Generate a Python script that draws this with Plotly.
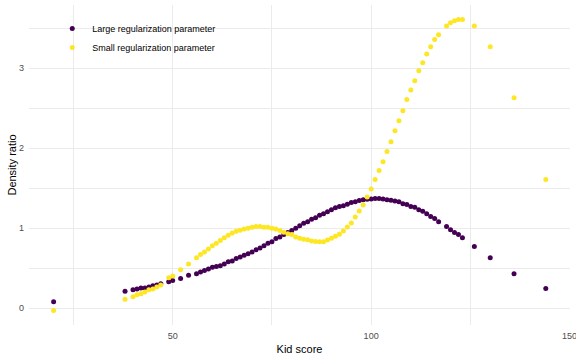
import plotly.graph_objects as go

kid_score = [20, 38, 40, 41, 42, 43, 44, 45, 46, 47, 49, 50, 52, 54,
             56, 57, 58, 59, 60, 61, 62, 63, 64, 65, 66, 67, 68, 69, 70,
             71, 72, 73, 74, 75, 76, 77, 78, 79, 80, 81, 82, 83, 84, 85,
             86, 87, 88, 89, 90, 91, 92, 93, 94, 95, 96, 97, 98, 99, 100,
             101, 102, 103, 104, 105, 106, 107, 108, 109, 110, 111, 112,
             113, 114, 115, 116, 117, 119, 120, 121, 122, 123, 126, 130,
             136, 144]

large_reg = [0.08, 0.21, 0.23, 0.24, 0.25, 0.25, 0.265, 0.28, 0.29, 0.305, 0.33, 0.345, 0.37, 0.41,
             0.43, 0.45, 0.47, 0.49, 0.51, 0.52, 0.53, 0.55, 0.58, 0.59, 0.62, 0.64, 0.66, 0.68, 0.70,
             0.73, 0.75, 0.78, 0.81, 0.83, 0.87, 0.89, 0.92, 0.945, 0.97, 1.00, 1.03, 1.06, 1.08, 1.11,
             1.13, 1.16, 1.18, 1.205, 1.23, 1.255, 1.27, 1.28, 1.30, 1.32, 1.33, 1.345, 1.355, 1.36, 1.366,
             1.37, 1.37, 1.365, 1.355, 1.35, 1.34, 1.33, 1.305, 1.295, 1.27, 1.26, 1.23,
             1.21, 1.18, 1.145, 1.12, 1.08, 1.02, 0.98, 0.945, 0.92, 0.88, 0.77, 0.63,
             0.43, 0.245]

small_reg = [-0.03, 0.11, 0.14, 0.166, 0.18, 0.20, 0.23, 0.24, 0.265, 0.29, 0.38, 0.40, 0.48, 0.55,
             0.63, 0.67, 0.70, 0.74, 0.78, 0.81, 0.845, 0.88, 0.91, 0.94, 0.96, 0.975, 0.99, 1.00, 1.01,
             1.02, 1.02, 1.01, 1.01, 1.00, 0.99, 0.97, 0.95, 0.93, 0.92, 0.89, 0.875, 0.86, 0.854, 0.84,
             0.833, 0.83, 0.83, 0.85, 0.875, 0.90, 0.925, 0.965, 1.015, 1.065, 1.14, 1.215, 1.29, 1.39, 1.49,
             1.61, 1.72, 1.83, 1.96, 2.08, 2.22, 2.345, 2.47, 2.61, 2.73, 2.845, 2.97,
             3.07, 3.18, 3.27, 3.36, 3.42, 3.53, 3.57, 3.595, 3.61, 3.61, 3.53, 3.27,
             2.63, 1.61]

series_names = ["Large regularization parameter", "Small regularization parameter"]
x_ticks = [50, 100, 150]
y_ticks = [0, 1, 2, 3]

FONT = "Liberation Sans, Arial, sans-serif"
GRID = "#EBEBEB"

fig = go.Figure()
fig.add_trace(go.Scatter(x=kid_score, y=large_reg, mode="markers", name=series_names[0],
                         marker=dict(color="#440154", size=5, line=dict(width=0))))
fig.add_trace(go.Scatter(x=kid_score, y=small_reg, mode="markers", name=series_names[1],
                         marker=dict(color="#FDE725", size=5, line=dict(width=0))))

fig.update_layout(
    template="none",
    width=576, height=360,
    margin=dict(l=29, r=6, t=5, b=35, pad=0),
    paper_bgcolor="white", plot_bgcolor="white",
    font=dict(family=FONT, color="#000000"),
    showlegend=True,
    hovermode=False,
    legend=dict(x=0.043, y=0.972, xanchor="left", yanchor="top",
                bgcolor="rgba(0,0,0,0)", borderwidth=0,
                font=dict(size=9, color="#000000")),
    xaxis=dict(
        automargin=False,
        title=dict(text="Kid score", font=dict(size=11), standoff=5),
        range=[13.8, 150.1], tickvals=x_ticks, ticktext=[str(v) for v in x_ticks],
        showgrid=True, gridcolor=GRID, gridwidth=1, zeroline=False, showline=False,
        ticks="", ticklabelstandoff=4, ticklabeloverflow="allow",
        tickfont=dict(size=9, color="#4D4D4D"),
        minor=dict(tick0=0, dtick=25, showgrid=True, gridcolor=GRID, gridwidth=0.6),
    ),
    yaxis=dict(
        automargin=False,
        title=dict(text="Density ratio", font=dict(size=11), standoff=0),
        range=[-0.212, 3.792], tickvals=y_ticks, ticktext=[str(v) for v in y_ticks],
        showgrid=True, gridcolor=GRID, gridwidth=1, zeroline=False, showline=False,
        ticks="", ticklabelstandoff=4, ticklabeloverflow="allow",
        tickfont=dict(size=9, color="#4D4D4D"),
        minor=dict(tick0=0, dtick=0.5, showgrid=True, gridcolor=GRID, gridwidth=0.6),
    ),
)

fig.write_html("out.html", config={"displayModeBar": False},
               post_script="document.body.style.margin='0px';document.body.style.padding='0px';")
